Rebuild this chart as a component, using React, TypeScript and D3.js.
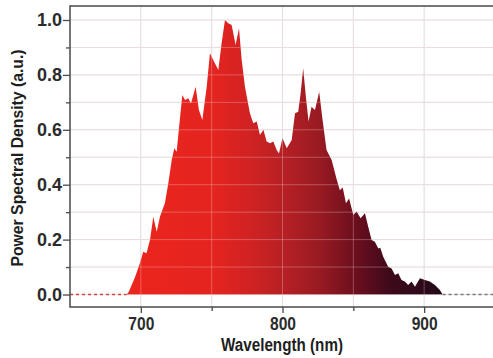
import * as d3 from 'd3';
import { useRef, useEffect } from 'react';

// Spectrum (wavelength in nm, normalised PSD)
const wavelengths = [
  690, 691.5, 694, 696, 699.4, 701.7, 704, 706.5, 708.8, 711.2, 713.5, 717, 719.4, 721.8, 723.6, 725.3,
  727, 729.3, 731.2, 733.5, 735.4, 738.7, 741, 743.4, 746.5, 748.8, 751.1, 754.7, 757, 759.4, 761.7,
  764.1, 766.9, 769.3, 771.2, 773.5, 777, 779.4, 781.8, 784.1, 786.5, 788.8, 791.2, 793.5, 795.9,
  797.5, 800, 803, 806.5, 808.8, 811.1, 812.8, 814.6, 816.5, 818.4, 820.5, 822.9, 825.9, 828.3,
  831.1, 834.7, 838.2, 840.5, 842.5, 844.8, 847, 850, 852.3, 855.1, 858.2, 860.5, 862.9, 865.2,
  867.6, 869, 871.1, 874.6, 877, 879.4, 881.7, 884, 886.4, 888.7, 891.1, 893.5, 897, 900.5, 904,
  907.6, 911.1, 913,
];
const psd = [
  0, 0.01, 0.04, 0.065, 0.115, 0.156, 0.15, 0.2, 0.283, 0.229, 0.283, 0.333, 0.405, 0.49, 0.533, 0.52,
  0.61, 0.727, 0.709, 0.715, 0.696, 0.757, 0.672, 0.636, 0.757, 0.879, 0.854, 0.818, 0.915, 1.0, 0.988,
  0.982, 0.909, 0.97, 0.854, 0.757, 0.66, 0.624, 0.63, 0.581, 0.6, 0.557, 0.551, 0.557, 0.526,
  0.514, 0.569, 0.533, 0.563, 0.66, 0.666, 0.733, 0.824, 0.72, 0.63, 0.684, 0.672, 0.739, 0.636,
  0.526, 0.49, 0.42, 0.38, 0.39, 0.332, 0.35, 0.29, 0.302, 0.278, 0.296, 0.247, 0.199, 0.192,
  0.168, 0.17, 0.138, 0.101, 0.095, 0.071, 0.077, 0.053, 0.047, 0.035, 0.047, 0.028, 0.059, 0.053, 0.047,
  0.035, 0.016, 0,
];

const yTicks = [0, 0.2, 0.4, 0.6, 0.8, 1.0];
const yMinorTicks = [0.1, 0.3, 0.5, 0.7, 0.9];
const xTicks = [700, 800, 900];
const xMinorTicks = [750, 850];

export default function App() {
  const ref = useRef<SVGSVGElement>(null);

  useEffect(() => {
    const width = 493;
    const height = 358;
    const svg = d3.select(ref.current).attr('width', width).attr('height', height);
    svg.selectAll('*').remove();

    const font = '"Liberation Sans", Arial, sans-serif';
    const data = wavelengths.map((w, i) => ({ w, v: psd[i] }));

    const x = d3.scaleLinear().domain([650, 950]).range([70, 495]);
    const y = d3.scaleLinear().domain([-0.0455, 1.051]).range([307, 6]);

    // gradient red -> dark plum along wavelength
    const defs = svg.append('defs');
    const grad = defs.append('linearGradient')
      .attr('id', 'specGrad')
      .attr('gradientUnits', 'userSpaceOnUse')
      .attr('x1', x(692)).attr('x2', x(912))
      .attr('y1', 0).attr('y2', 0);
    [
      [0, '#ec251d'],
      [0.27, '#e42420'],
      [0.39, '#d02222'],
      [0.5, '#b52024'],
      [0.61, '#981a22'],
      [0.73, '#6a0e1e'],
      [0.84, '#3c0a1a'],
      [1, '#24081a'],
    ].forEach(([o, c]) => grad.append('stop').attr('offset', o as number).attr('stop-color', c as string));

    svg.append('rect').attr('x', 0).attr('y', 0).attr('width', width).attr('height', height).attr('fill', '#fff');

    const gridColor = '#e2dcdc';
    const allY = d3.range(0, 11).map(d => d / 10);
    const allX = [700, 750, 800, 850, 900];

    const drawGrid = (g: d3.Selection<SVGGElement, unknown, null, undefined>, color: string, opacity: number) => {
      g.selectAll('.hg').data(allY).enter().append('line')
        .attr('x1', 70).attr('x2', 495)
        .attr('y1', d => y(d)).attr('y2', d => y(d))
        .attr('stroke', color).attr('stroke-opacity', opacity).attr('stroke-width', 1);
      g.selectAll('.vg').data(allX).enter().append('line')
        .attr('x1', d => x(d)).attr('x2', d => x(d))
        .attr('y1', 6).attr('y2', 307)
        .attr('stroke', color).attr('stroke-opacity', opacity).attr('stroke-width', 1);
    };

    drawGrid(svg.append('g'), gridColor, 1);

    // spectrum area
    const area = d3.area<{ w: number; v: number }>()
      .x(d => x(d.w))
      .y0(y(0))
      .y1(d => y(d.v))
      .curve(d3.curveLinear);

    svg.append('path')
      .datum(data)
      .attr('fill', 'url(#specGrad)')
      .attr('d', area);

    // faint grid showing through the fill
    drawGrid(svg.append('g'), '#f4dede', 0.3);

    // dashed baseline outside the spectrum
    svg.append('line')
      .attr('x1', 70).attr('x2', x(wavelengths[0]))
      .attr('y1', y(0)).attr('y2', y(0))
      .attr('stroke', '#d0453f').attr('stroke-width', 1.3)
      .attr('stroke-dasharray', '3,3');
    svg.append('line')
      .attr('x1', x(wavelengths[wavelengths.length - 1])).attr('x2', 495)
      .attr('y1', y(0)).attr('y2', y(0))
      .attr('stroke', '#777').attr('stroke-width', 1.3)
      .attr('stroke-dasharray', '3,3');

    // frame
    svg.append('rect')
      .attr('x', 70).attr('y', 6).attr('width', 425).attr('height', 301)
      .attr('fill', 'none').attr('stroke', '#4a4a4a').attr('stroke-width', 1.5);

    // y axis
    const yAxis = svg.append('g').attr('transform', 'translate(70,0)')
      .call(d3.axisLeft(y).tickValues(yTicks).tickSize(7).tickFormat(d3.format('.1f')));
    yAxis.append('g')
      .call(d3.axisLeft(y).tickValues(yMinorTicks).tickSize(4).tickFormat(() => ''));
    yAxis.selectAll('.domain').remove();
    yAxis.selectAll('line').attr('stroke', '#4a4a4a').attr('stroke-width', 1.3);
    yAxis.selectAll('text')
      .filter(function () { return (this as SVGTextElement).textContent !== ''; })
      .attr('x', -8)
      .attr('textLength', 25).attr('lengthAdjust', 'spacingAndGlyphs')
      .style('font-family', font).style('font-size', '18px').style('font-weight', 'bold')
      .attr('fill', '#2b2b2b');

    // x axis
    const xAxis = svg.append('g').attr('transform', 'translate(0,307)')
      .call(d3.axisBottom(x).tickValues(xTicks).tickSize(6).tickFormat(d3.format('d')));
    xAxis.append('g')
      .call(d3.axisBottom(x).tickValues(xMinorTicks).tickSize(4).tickFormat(() => ''));
    xAxis.selectAll('.domain').remove();
    xAxis.selectAll('line').attr('stroke', '#4a4a4a').attr('stroke-width', 1.3);
    xAxis.selectAll('text')
      .filter(function () { return (this as SVGTextElement).textContent !== ''; })
      .attr('y', 10)
      .attr('textLength', 26).attr('lengthAdjust', 'spacingAndGlyphs')
      .style('font-family', font).style('font-size', '18px').style('font-weight', 'bold')
      .attr('fill', '#2b2b2b');

    // axis titles
    svg.append('text')
      .attr('x', 282).attr('y', 351)
      .attr('text-anchor', 'middle')
      .attr('textLength', 122).attr('lengthAdjust', 'spacingAndGlyphs')
      .style('font-family', font).style('font-size', '18px').style('font-weight', 'bold')
      .attr('fill', '#1e1e1e')
      .text('Wavelength (nm)');

    svg.append('text')
      .attr('transform', 'translate(23,158) rotate(-90)')
      .attr('text-anchor', 'middle')
      .attr('textLength', 217).attr('lengthAdjust', 'spacingAndGlyphs')
      .style('font-family', font).style('font-size', '17px').style('font-weight', 'bold')
      .attr('fill', '#1e1e1e')
      .text('Power Spectral Density (a.u.)');
  }, []);

  return (
    <svg ref={ref} style={{ position: 'absolute', left: 0, top: 0, display: 'block' }}></svg>
  );
}
